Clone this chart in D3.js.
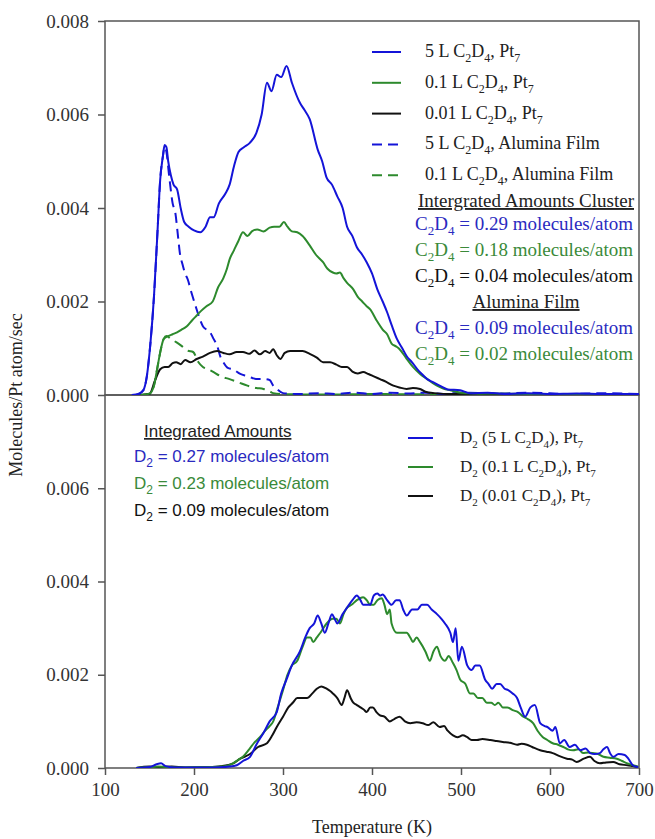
<!DOCTYPE html>
<html>
<head>
<meta charset="utf-8">
<script src="https://cdn.jsdelivr.net/npm/d3@7"></script>
<style>
  body { margin: 0; background: #fff; }
  text { font-family: "Liberation Serif", "Times New Roman", serif; }
</style>
</head>
<body>
<div id="chart"></div>
<script>
// ---- TPD traces, [temperature K, molecules / Pt atom / sec] ----
// upper panel: C2D4 desorption
const c2d4Pt5L = [[130,0],[138,0.00002],[143,0.0001],[147,0.0004],[151,0.0011],[155,0.0021],[159,0.0035],[162,0.0046],[165,0.0051],[167,0.00535],[169,0.0053],[171,0.0050],[174,0.0047],[177,0.0045],[181,0.0044],[185,0.0040],[189,0.0037],[194,0.0036],[200,0.00352],[207,0.00348],[213,0.0036],[218,0.0038],[222,0.0038],[228,0.0041],[235,0.0043],[240,0.0045],[245,0.0049],[250,0.0052],[256,0.0053],[263,0.0054],[270,0.0056],[276,0.0060],[282,0.00668],[287,0.0065],[293,0.00685],[298,0.0068],[304,0.00704],[310,0.00668],[319,0.00625],[324,0.0061],[330,0.0059],[339,0.00525],[344,0.0050],[349,0.00465],[355,0.0045],[361,0.00425],[367,0.0040],[372,0.0036],[378,0.0034],[383,0.00316],[389,0.0030],[394,0.00284],[400,0.0026],[406,0.00226],[412,0.0020],[417,0.00177],[422,0.0015],[428,0.0012],[434,0.0010],[439,0.00083],[445,0.0007],[451,0.00055],[456,0.00045],[462,0.00034],[468,0.00028],[476,0.0002],[485,0.00012],[499,0.0001],[510,0.00004],[530,0.00005],[550,0.00002],[575,0.00004],[600,0.00002],[630,0.00003],[660,0.00002],[700,0.00002]];
const c2d4Pt01L = [[140,0],[150,0.00003],[155,0.0002],[159,0.0006],[163,0.0010],[166,0.0012],[171,0.00126],[176,0.0013],[181,0.00134],[186,0.0014],[192,0.00147],[198,0.0016],[203,0.0017],[208,0.0018],[214,0.0019],[221,0.0020],[227,0.0023],[233,0.0025],[237,0.0027],[240,0.0029],[245,0.0031],[250,0.0033],[255,0.00348],[260,0.0034],[265,0.0035],[271,0.00354],[278,0.0035],[285,0.00358],[290,0.0036],[296,0.0036],[301,0.0037],[305,0.0036],[310,0.0035],[316,0.00348],[322,0.0034],[330,0.0032],[337,0.0030],[345,0.00284],[350,0.0027],[356,0.00262],[360,0.0026],[364,0.00262],[368,0.0025],[372,0.0024],[379,0.00226],[384,0.0021],[389,0.0020],[394,0.0019],[398,0.00183],[405,0.0016],[412,0.0014],[417,0.0013],[422,0.0011],[427,0.00104],[431,0.00098],[438,0.0008],[446,0.0006],[454,0.00045],[462,0.00034],[468,0.00026],[473,0.0002],[480,0.00014],[488,0.0001],[500,0.00005],[530,0.00003],[600,0.00002],[700,0.00001]];
const c2d4Pt001L = [[140,0],[150,0.00002],[156,0.0003],[162,0.00055],[167,0.0006],[171,0.0006],[176,0.00068],[180,0.0007],[185,0.00066],[190,0.00075],[196,0.0007],[203,0.00077],[210,0.00082],[218,0.0009],[226,0.00094],[233,0.0009],[240,0.00087],[248,0.00092],[255,0.00092],[262,0.00088],[268,0.00095],[274,0.00087],[280,0.00094],[285,0.0009],[289,0.00098],[293,0.00085],[297,0.00077],[302,0.0009],[308,0.00094],[315,0.00094],[322,0.00094],[330,0.00088],[338,0.0008],[345,0.0007],[353,0.0007],[360,0.00065],[366,0.0006],[372,0.0006],[378,0.0005],[384,0.00046],[390,0.00049],[396,0.00045],[402,0.0004],[409,0.00034],[416,0.00028],[424,0.0002],[431,0.00016],[439,0.00013],[446,0.00015],[454,0.00013],[460,0.00007],[470,0.00004],[490,0.00002],[520,0.00003],[560,0.00001],[600,0.00002],[700,0.00001]];
const c2d4Film5L = [[135,0],[143,0.0001],[147,0.0004],[151,0.0011],[155,0.0021],[159,0.0035],[162,0.0046],[165,0.0051],[167,0.0053],[169,0.0052],[172,0.0047],[176,0.0041],[179,0.0039],[182,0.0034],[184,0.00305],[187,0.0028],[190,0.0026],[193,0.00247],[197,0.0022],[203,0.00183],[207,0.0016],[210,0.00147],[214,0.0014],[218,0.00134],[222,0.0012],[226,0.00105],[230,0.0008],[233,0.0007],[238,0.00058],[244,0.00055],[252,0.00045],[260,0.0004],[266,0.00036],[271,0.00034],[278,0.00034],[285,0.00032],[289,0.0002],[293,0.00013],[300,0.00004],[320,0.00002],[340,0.00004],[360,0.00002],[380,0.00005],[400,0.00002],[420,0.00005],[440,0.00003],[460,0.00005],[480,0.00002],[500,0.00005],[540,0.00003],[580,0.00005],[620,0.00002],[660,0.00004],[700,0.00002]];
const c2d4Film01L = [[140,0],[150,0.00003],[155,0.0002],[159,0.0006],[163,0.0010],[166,0.0012],[169,0.00126],[174,0.0012],[180,0.00113],[186,0.00105],[193,0.00095],[199,0.00092],[205,0.0007],[210,0.0006],[216,0.00055],[221,0.0005],[230,0.0004],[240,0.00034],[250,0.00027],[260,0.0002],[270,0.00015],[278,0.00013],[285,0.00008],[289,0.00004],[300,0.00002],[350,0.00001],[400,0.00002],[500,0.00001],[600,0.00001],[700,0.00001]];

// lower panel: D2 desorption
const d2Pt5L = [[135,0],[150,0.00002],[158,0.00008],[163,0.0001],[168,0.00004],[180,0.00001],[220,0.00001],[240,0.00003],[248,0.00006],[255,0.00015],[263,0.00024],[270,0.0005],[278,0.00075],[285,0.001],[293,0.0012],[298,0.0016],[304,0.0019],[310,0.0022],[319,0.0025],[325,0.0028],[330,0.003],[335,0.0031],[339,0.00327],[343,0.0031],[347,0.0029],[351,0.0031],[355,0.0033],[358,0.0032],[361,0.0031],[367,0.0033],[372,0.00344],[378,0.0036],[383,0.0037],[387,0.0036],[390,0.0035],[394,0.0035],[398,0.0035],[402,0.0037],[406,0.00374],[409,0.0037],[412,0.00372],[417,0.0036],[422,0.0035],[427,0.0036],[431,0.0036],[435,0.0034],[439,0.00327],[445,0.0034],[451,0.0034],[456,0.0035],[462,0.0035],[467,0.0034],[473,0.0033],[478,0.0032],[482,0.0031],[488,0.0029],[491,0.0027],[494,0.0030],[497,0.0023],[501,0.0026],[507,0.0022],[512,0.0021],[516,0.0022],[521,0.0022],[527,0.0019],[531,0.0018],[535,0.0017],[540,0.0018],[544,0.0018],[549,0.0017],[553,0.00167],[558,0.0016],[563,0.0015],[567,0.0013],[572,0.0011],[578,0.0013],[583,0.00135],[589,0.00096],[594,0.0009],[597,0.00088],[603,0.0008],[606,0.00088],[611,0.00053],[616,0.0006],[622,0.00045],[628,0.0005],[634,0.00038],[640,0.00042],[645,0.00032],[650,0.0003],[656,0.00032],[660,0.0004],[664,0.00045],[668,0.0003],[671,0.00024],[677,0.0003],[684,0.00028],[688,0.0002],[693,0.00006],[699,0.00002]];
const d2Pt01L = [[135,0],[150,0.00002],[160,0.00003],[180,0.00001],[220,0.00002],[235,0.00004],[244,0.0001],[250,0.00018],[255,0.00024],[262,0.0004],[268,0.00055],[274,0.00066],[280,0.0008],[285,0.0009],[289,0.001],[294,0.0013],[300,0.00167],[305,0.002],[310,0.0022],[316,0.0023],[322,0.0026],[327,0.0028],[331,0.0028],[334,0.0027],[338,0.0028],[342,0.0029],[349,0.0031],[356,0.0032],[360,0.0032],[364,0.0031],[368,0.0033],[372,0.00344],[377,0.0035],[383,0.0036],[390,0.00366],[394,0.0036],[398,0.0035],[402,0.0035],[406,0.0036],[411,0.00364],[414,0.0035],[417,0.0033],[420,0.0034],[422,0.0031],[428,0.0029],[433,0.0029],[439,0.0029],[443,0.0028],[446,0.0027],[450,0.0028],[454,0.0027],[460,0.0025],[465,0.0023],[469,0.0025],[473,0.0026],[477,0.0024],[482,0.0023],[486,0.0024],[491,0.00225],[495,0.0021],[499,0.0019],[505,0.0018],[510,0.0016],[514,0.0016],[519,0.0015],[524,0.0015],[529,0.0014],[534,0.0014],[538,0.00135],[542,0.0014],[547,0.0013],[552,0.0013],[558,0.00124],[564,0.0012],[570,0.0011],[575,0.00105],[581,0.00096],[586,0.0008],[592,0.00066],[597,0.0006],[603,0.00053],[609,0.0005],[615,0.00045],[620,0.0004],[626,0.00038],[632,0.0004],[637,0.00032],[643,0.00033],[648,0.00032],[654,0.0003],[660,0.00024],[667,0.00022],[675,0.0002],[681,0.00015],[687,0.0001],[693,0.00006],[699,0.00003]];
const d2Pt001L = [[135,0],[150,0.00003],[160,0.00002],[175,0.00003],[190,0.00001],[215,0.00002],[230,0.00004],[244,0.0001],[252,0.0002],[263,0.0003],[272,0.00045],[282,0.00053],[288,0.0007],[293,0.00088],[300,0.0011],[306,0.0013],[311,0.0014],[316,0.0015],[322,0.0015],[327,0.0015],[333,0.0016],[338,0.0017],[343,0.00175],[349,0.0017],[353,0.00165],[356,0.0016],[361,0.0015],[366,0.00135],[369,0.0015],[372,0.00167],[376,0.0015],[379,0.0014],[383,0.00135],[387,0.0013],[391,0.00125],[394,0.0012],[398,0.0013],[401,0.0013],[405,0.0012],[409,0.00113],[414,0.0011],[420,0.001],[425,0.00105],[431,0.0011],[437,0.001],[443,0.00096],[450,0.00098],[457,0.00096],[463,0.00092],[469,0.00098],[476,0.00088],[481,0.0009],[485,0.0008],[491,0.0007],[496,0.00066],[502,0.0007],[507,0.00066],[512,0.0006],[518,0.0006],[524,0.00062],[533,0.0006],[540,0.00058],[547,0.00056],[555,0.00054],[563,0.0005],[568,0.00052],[574,0.0005],[580,0.00045],[589,0.00038],[596,0.00035],[603,0.00032],[610,0.00026],[619,0.0002],[625,0.00018],[630,0.00013],[638,0.0002],[645,0.00024],[650,0.00015],[656,0.0001],[663,0.00012],[671,0.00013],[678,0.00008],[687,0.00006],[693,0.00004],[699,0.00002]];

// axis ticks
const tempTicks = [100, 200, 300, 400, 500, 600, 700];
const topRateTicks = [0, 0.002, 0.004, 0.006, 0.008];
const bottomRateTicks = [0, 0.002, 0.004, 0.006];

// legends and integrated amounts ("_n" marks a subscript digit)
const topLegend = ["5 L C_2D_4, Pt_7", "0.1 L C_2D_4, Pt_7", "0.01 L C_2D_4, Pt_7", "5 L C_2D_4, Alumina Film", "0.1 L C_2D_4, Alumina Film"];
const clusterAmounts = ["C_2D_4 = 0.29 molecules/atom", "C_2D_4 = 0.18 molecules/atom", "C_2D_4 = 0.04 molecules/atom"];
const filmAmounts = ["C_2D_4 = 0.09 molecules/atom", "C_2D_4 = 0.02 molecules/atom"];
const bottomLegend = ["D_2 (5 L C_2D_4), Pt_7", "D_2 (0.1 L C_2D_4), Pt_7", "D_2 (0.01 C_2D_4), Pt_7"];
const d2Amounts = ["D_2 = 0.27 molecules/atom", "D_2 = 0.23 molecules/atom", "D_2 = 0.09 molecules/atom"];

const BLUE = "#1414d8", GREEN = "#2d8a2d", BLACK = "#111";
const TEXT_BLUE = "#2a2ac0", TEXT_GREEN = "#3a8a3a";

const svg = d3.select("#chart").append("svg")
    .attr("width", 655)
    .attr("height", 839);

const x = d3.scaleLinear().domain([100, 700]).range([105, 639]);
const yTop = d3.scaleLinear().domain([0, 0.008]).range([395, 21]);
const yBot = d3.scaleLinear().domain([0, 0.008]).range([768, 395]);

// clip so traces stay in their panel
const defs = svg.append("defs");
defs.append("clipPath").attr("id", "clipTop").append("rect")
    .attr("x", 105).attr("y", 21).attr("width", 534).attr("height", 374);
defs.append("clipPath").attr("id", "clipBot").append("rect")
    .attr("x", 105).attr("y", 395).attr("width", 534).attr("height", 373);

// write text with subscript digits as tspans
function richText(sel, str, subSize) {
    const parts = str.split(/(_\d)/).filter(s => s.length);
    let down = false;
    parts.forEach(p => {
        if (p[0] === "_") {
            sel.append("tspan").attr("dy", down ? 0 : 5).attr("font-size", subSize).text(p.slice(1));
            down = true;
        } else {
            sel.append("tspan").attr("dy", down ? -5 : 0).text(p);
            down = false;
        }
    });
}

function drawTrace(yScale, data, color, clip, dash) {
    const line = d3.line()
        .x(d => x(d[0]))
        .y(d => yScale(d[1]))
        .curve(d3.curveMonotoneX);
    svg.append("path")
        .datum(data)
        .attr("clip-path", `url(#${clip})`)
        .attr("fill", "none")
        .attr("stroke", color)
        .attr("stroke-width", 2)
        .attr("stroke-dasharray", dash || null)
        .attr("d", line);
}

// panel frames
svg.append("rect").attr("x", 105).attr("y", 21).attr("width", 534).attr("height", 374)
    .attr("fill", "none").attr("stroke", "#555").attr("stroke-width", 1.5);
svg.append("rect").attr("x", 105).attr("y", 395).attr("width", 534).attr("height", 373)
    .attr("fill", "none").attr("stroke", "#555").attr("stroke-width", 1.5);

// axes
function styleAxis(g) {
    g.select(".domain").remove();
    g.selectAll(".tick line").attr("stroke", "#555").attr("stroke-width", 1.5);
    g.selectAll(".tick text")
        .attr("fill", "#333")
        .style("font-family", '"Liberation Serif", serif')
        .style("font-size", "19px");
}
svg.append("g").attr("transform", "translate(105,0)")
    .call(d3.axisLeft(yTop).tickValues(topRateTicks).tickFormat(d3.format(".3f")).tickSize(7).tickPadding(9))
    .call(styleAxis);
svg.append("g").attr("transform", "translate(105,0)")
    .call(d3.axisLeft(yBot).tickValues(bottomRateTicks).tickFormat(d3.format(".3f")).tickSize(7).tickPadding(9))
    .call(styleAxis);
svg.append("g").attr("transform", "translate(0,768)")
    .call(d3.axisBottom(x).tickValues(tempTicks).tickFormat(d3.format("d")).tickSize(7).tickPadding(8))
    .call(styleAxis);

// axis titles
svg.append("text")
    .attr("transform", "translate(22,395) rotate(-90)")
    .attr("text-anchor", "middle")
    .attr("font-size", 18).attr("fill", "#222")
    .text("Molecules/Pt atom/sec");
svg.append("text")
    .attr("x", 372).attr("y", 833)
    .attr("text-anchor", "middle")
    .attr("font-size", 18).attr("fill", "#222")
    .text("Temperature (K)");

// upper panel traces
drawTrace(yTop, c2d4Film01L, GREEN, "clipTop", "10,6");
drawTrace(yTop, c2d4Film5L, BLUE, "clipTop", "10,6");
drawTrace(yTop, c2d4Pt001L, BLACK, "clipTop");
drawTrace(yTop, c2d4Pt01L, GREEN, "clipTop");
drawTrace(yTop, c2d4Pt5L, BLUE, "clipTop");

// lower panel traces
drawTrace(yBot, d2Pt001L, BLACK, "clipBot");
drawTrace(yBot, d2Pt01L, GREEN, "clipBot");
drawTrace(yBot, d2Pt5L, BLUE, "clipBot");

// upper legend
const topColors = [BLUE, GREEN, BLACK, BLUE, GREEN];
topLegend.forEach((label, i) => {
    const yy = 57 + i * 30.8;
    svg.append("line")
        .attr("x1", 372).attr("x2", 401).attr("y1", yy - 5).attr("y2", yy - 5)
        .attr("stroke", topColors[i]).attr("stroke-width", 2)
        .attr("stroke-dasharray", i >= 3 ? "10,6" : null);
    const t = svg.append("text").attr("x", 425).attr("y", yy)
        .attr("font-size", 18).attr("fill", "#222");
    richText(t, label, 12);
});

// integrated amounts, upper panel
svg.append("text").attr("x", 634).attr("y", 207)
    .attr("text-anchor", "end").attr("font-size", 19).attr("fill", "#222")
    .style("text-decoration", "underline")
    .text("Intergrated Amounts Cluster");
const clusterColors = [TEXT_BLUE, TEXT_GREEN, BLACK];
clusterAmounts.forEach((s, i) => {
    const t = svg.append("text").attr("x", 633).attr("y", 230 + i * 26)
        .attr("text-anchor", "end").attr("font-size", 19).attr("fill", clusterColors[i]);
    richText(t, s, 13);
});
svg.append("text").attr("x", 526).attr("y", 308)
    .attr("text-anchor", "middle").attr("font-size", 19).attr("fill", "#222")
    .style("text-decoration", "underline")
    .text("Alumina Film");
const filmColors = [TEXT_BLUE, TEXT_GREEN];
filmAmounts.forEach((s, i) => {
    const t = svg.append("text").attr("x", 633).attr("y", 334 + i * 26)
        .attr("text-anchor", "end").attr("font-size", 19).attr("fill", filmColors[i]);
    richText(t, s, 13);
});

// lower legend
const botColors = [BLUE, GREEN, BLACK];
bottomLegend.forEach((label, i) => {
    const yy = 443 + i * 29;
    svg.append("line")
        .attr("x1", 408).attr("x2", 433).attr("y1", yy - 5).attr("y2", yy - 5)
        .attr("stroke", botColors[i]).attr("stroke-width", 2);
    const t = svg.append("text").attr("x", 460).attr("y", yy)
        .attr("font-size", 17).attr("fill", "#222");
    richText(t, label, 11);
});

// integrated amounts, lower panel
svg.append("text").attr("x", 144).attr("y", 437)
    .attr("font-size", 17).attr("fill", "#222")
    .style("font-family", '"Liberation Sans", Arial, sans-serif')
    .style("text-decoration", "underline")
    .text("Integrated Amounts");
const d2Colors = [TEXT_BLUE, TEXT_GREEN, BLACK];
d2Amounts.forEach((s, i) => {
    const t = svg.append("text").attr("x", 134).attr("y", 462 + i * 27)
        .attr("font-size", 17).attr("fill", d2Colors[i])
        .style("font-family", '"Liberation Sans", Arial, sans-serif');
    richText(t, s, 12);
});
</script>
</body>
</html>
